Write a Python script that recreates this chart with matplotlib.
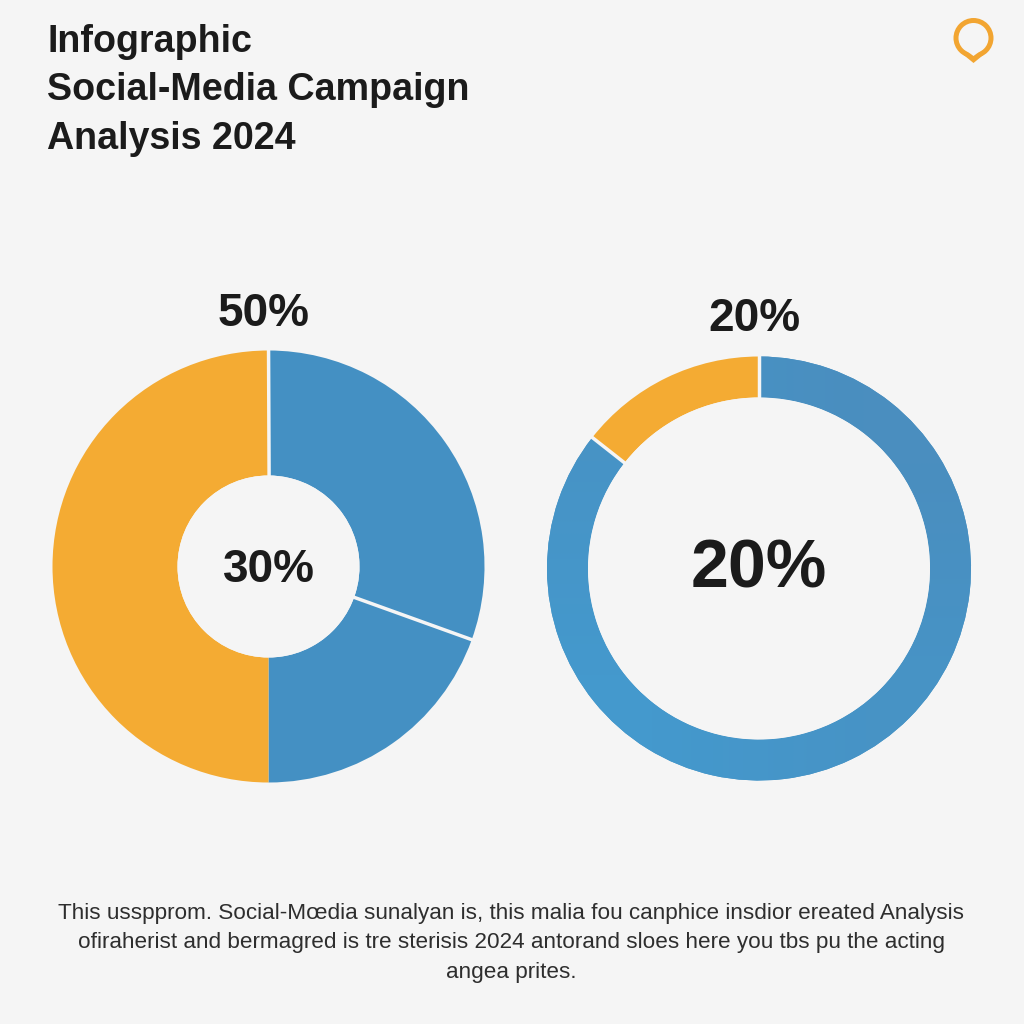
# -*- coding: utf-8 -*-
'''Infographic with two donut charts'''
import numpy as np
from matplotlib import pyplot as plt
from matplotlib.colors import LinearSegmentedColormap
from matplotlib.patches import Circle, Polygon

plt.rcParams['font.family']=['Liberation Sans','DejaVu Sans']

title_lines=['Infographic','Social-Media Campaign','Analysis 2024']
note_lines=['This usspprom. Social-Mœdia sunalyan is, this malia fou canphice insdior ereated Analysis',
	'ofiraherist and bermagred is tre sterisis 2024 antorand sloes here you tbs pu the acting',
	'angea prites.']

# shares read clockwise from 12 o'clock
left_values=[30.5,19.5,50]
left_colors=['#4490c3','#4490c3','#f4ab33']
left_gaps=[True,False,True]   # light seam at the end of a slice
left_top='50%'
left_mid='30%'

right_values=[85.6,14.4]
right_colors=['#4593c6','#f4ab33']
right_gaps=[True,True]
right_top='20%'
right_mid='20%'

BG='#f5f5f5'
INK='#1b1b1b'

def draw_donut(fig,cx,cy,r,values,colors,gaps,hole):
	ax=fig.add_axes([(cx-r-2)/1024,1-(cy+r+2)/1024,(2*r+4)/1024,(2*r+4)/1024])
	rad=r/(r+2)
	wedges,_=ax.pie(values,colors=colors,startangle=90,counterclock=False,radius=rad,
		wedgeprops=dict(width=(r-hole)/(r+2),linewidth=0))
	ends=np.cumsum(values)/np.sum(values)*2*np.pi
	for end,gap in zip(ends,gaps):
		if gap:
			ax.plot([0,1.05*np.sin(end)],[0,1.05*np.cos(end)],color=BG,lw=2.5,zorder=5)
	ax.add_patch(Circle((0,0),hole/(r+2),fc=BG,ec='none',zorder=6))
	ax.set_xlim(-1,1)
	ax.set_ylim(-1,1)
	ax.axis('off')
	return ax,wedges

fig=plt.figure(figsize=(10.24,10.24),dpi=100,facecolor=BG)

draw_donut(fig,268.5,566.5,216,left_values,left_colors,left_gaps,91)
ax2,wedges2=draw_donut(fig,759,568.5,212,right_values,right_colors,right_gaps,171)

# the long blue arc runs a bit lighter toward the lower left
shade=LinearSegmentedColormap.from_list('shade',['#4499cd','#4a8ebf'])
im=ax2.imshow([[0,0.5],[0.5,1]],cmap=shade,extent=(-1,1,-1,1),origin='lower',interpolation='bilinear',zorder=wedges2[0].get_zorder())
im.set_clip_path(wedges2[0])
ax2.set_xlim(-1,1)
ax2.set_ylim(-1,1)

for y,s in zip([52,100,149],title_lines):
	fig.text(47/1024,1-y/1024,s,fontsize=27.1,fontweight='bold',color=INK,ha='left',va='baseline')

fig.text(264/1024,1-326/1024,left_top,fontsize=33,fontweight='bold',color=INK,ha='center',va='baseline')
fig.text(754/1024,1-331/1024,right_top,fontsize=33,fontweight='bold',color=INK,ha='center',va='baseline')
fig.text(268.5/1024,1-582/1024,left_mid,fontsize=33,fontweight='bold',color=INK,ha='center',va='baseline')
fig.text(758.5/1024,1-588/1024,right_mid,fontsize=49,fontweight='bold',color=INK,ha='center',va='baseline')

for y,s in zip([919,948,978],note_lines):
	fig.text(511/1024,1-y/1024,s,fontsize=16.2,color='#2e2e2e',ha='center',va='baseline')

# pin icon top right
icon=fig.add_axes([0,0,1,1],facecolor='none')
icon.set_xlim(0,1024)
icon.set_ylim(1024,0)
icon.axis('off')
icon.add_patch(Circle((973.5,38),20,fc='#f2a531',ec='none'))
icon.add_patch(Polygon([[960,52],[987,52],[973.5,63]],closed=True,fc='#f2a531',ec='none'))
icon.add_patch(Circle((973.5,38),15,fc=BG,ec='none'))
icon.add_patch(Polygon([[964,49],[983,49],[973.5,56]],closed=True,fc=BG,ec='none'))

plt.savefig('out.png',dpi=100,facecolor=BG)
